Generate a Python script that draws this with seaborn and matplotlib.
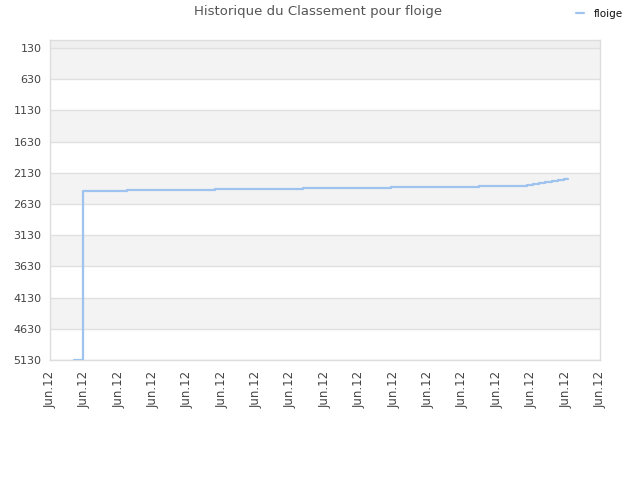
import pandas as pd
import matplotlib
matplotlib.use("Agg")
import matplotlib.pyplot as plt
import seaborn as sns
import numpy as np

# --- data (x in tick steps, all ticks labelled "Jun.12") ---
PLAYER = "floige"
TITLE = "Historique du Classement pour floige"
x_pos = [0.70, 0.95, 2.23, 4.80, 7.36, 9.92, 12.48, 13.77, 13.89, 14.06,
         14.23, 14.41, 14.61, 14.79, 14.96, 15.06]
rank = [5130, 2422, 2406, 2390, 2374, 2358, 2342, 2337, 2326, 2310,
        2294, 2278, 2262, 2246, 2230, 2225]
y_ticks = [130, 630, 1130, 1630, 2130, 2630, 3130, 3630, 4130, 4630, 5130]
x_labels = ["Jun.12"] * 17

LINE_COLOR = "#9dc3ee"

def main():
    df = pd.DataFrame({"x": x_pos, "rank": rank, "joueur": PLAYER})

    sns.set_style("white")
    plt.rcParams["font.family"] = ["DejaVu Sans"]

    fig = plt.figure(figsize=(6.4, 4.8), dpi=100)
    ax = fig.add_axes([50 / 640, 1 - 360 / 480, 550 / 640, 320 / 480])

    # bandes alternées
    ax.axhspan(0, y_ticks[0], color="#efefef", zorder=0, lw=0)
    for i in range(0, len(y_ticks) - 1, 2):
        ax.axhspan(y_ticks[i], y_ticks[i + 1], color="#f3f3f3", zorder=0, lw=0)
    for t in y_ticks:
        ax.axhline(t, color="#e0e0e0", lw=1, zorder=1)

    sns.lineplot(data=df, x="x", y="rank", ax=ax, color=LINE_COLOR,
                 linewidth=1.6, estimator=None, drawstyle="steps-post",
                 legend=False, zorder=3)

    ax.set_xlim(0, 16)
    ax.set_ylim(5130, 2)
    ax.set_yticks(y_ticks)
    ax.set_yticklabels([str(t) for t in y_ticks], fontsize=8, color="#444444")
    ax.set_xticks(range(17))
    ax.set_xticklabels(x_labels, rotation=90, fontsize=8.5, color="#444444")
    ax.tick_params(axis="y", length=0, pad=6)
    ax.tick_params(axis="x", length=0, pad=8)
    ax.set_xlabel("")
    ax.set_ylabel("")
    for s in ax.spines.values():
        s.set_color("#dddddd")
        s.set_linewidth(1)

    fig.text(318 / 640, 1 - 12 / 480, TITLE, ha="center", va="center",
             fontsize=9.5, color="#555555")

    handle = plt.Line2D([], [], color=LINE_COLOR, lw=1.6)
    leg = fig.legend([handle], [PLAYER], loc="center right",
                     bbox_to_anchor=(632 / 640, 1 - 14 / 480), frameon=False,
                     fontsize=7.5, handlelength=0.8, handletextpad=0.9)
    for txt in leg.get_texts():
        txt.set_color("#111111")

    fig.savefig("out.png", dpi=100)

if __name__ == "__main__":
    main()
